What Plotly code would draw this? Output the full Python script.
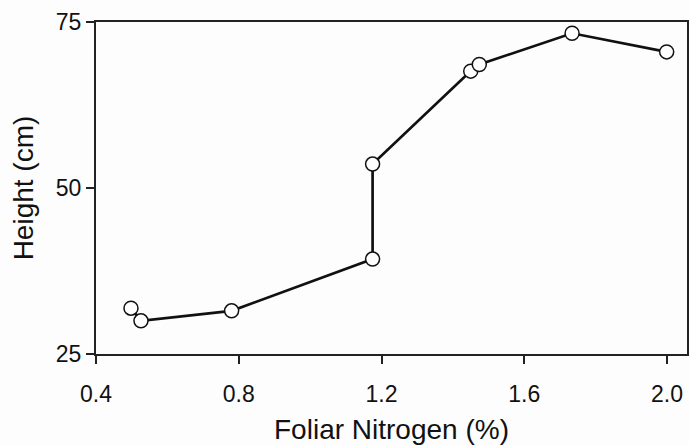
import plotly.graph_objects as go

nitrogen = [0.498, 0.526, 0.780, 1.175, 1.175, 1.450, 1.474, 1.734, 1.999]
height = [31.9, 30.0, 31.5, 39.3, 53.6, 67.6, 68.6, 73.3, 70.5]
x_ticks = [0.4, 0.8, 1.2, 1.6, 2.0]
x_labels = ["0.4", "0.8", "1.2", "1.6", "2.0"]
y_ticks = [25, 50, 75]

fig = go.Figure()
fig.add_trace(go.Scatter(
    x=nitrogen, y=height, mode="lines+markers",
    line=dict(color="#111111", width=2.7),
    marker=dict(symbol="circle", size=14, color="white",
                line=dict(color="#111111", width=1.5)),
    showlegend=False,
))

font = "Liberation Sans, Arial, sans-serif"
fig.update_layout(
    width=689, height=445,
    margin=dict(l=96, r=2, t=22, b=91),
    paper_bgcolor="#fdfdfd", plot_bgcolor="#fdfdfd",
    font=dict(family=font, color="#111111"),
)
fig.update_xaxes(
    range=[0.4, 2.056], tickvals=x_ticks, ticktext=x_labels,
    showgrid=False, zeroline=False, automargin=False,
    showline=True, linecolor="#222222", linewidth=2, mirror=True,
    ticks="outside", ticklen=8, tickwidth=2, tickcolor="#222222",
    tickfont=dict(size=23), ticklabelstandoff=10,
    title=dict(text="Foliar Nitrogen (%)", font=dict(size=28), standoff=17),
)
fig.update_yaxes(
    range=[25, 75], tickvals=y_ticks,
    showgrid=False, zeroline=False, automargin=False,
    showline=True, linecolor="#222222", linewidth=2, mirror=True,
    ticks="outside", ticklen=8, tickwidth=2, tickcolor="#222222",
    tickfont=dict(size=23),
    title=dict(text="Height (cm)", font=dict(size=28), standoff=14),
)
fig.write_html(
    "out.html",
    config={"displayModeBar": False},
    post_script="document.body.style.margin='0';document.body.style.overflow='hidden';",
)
